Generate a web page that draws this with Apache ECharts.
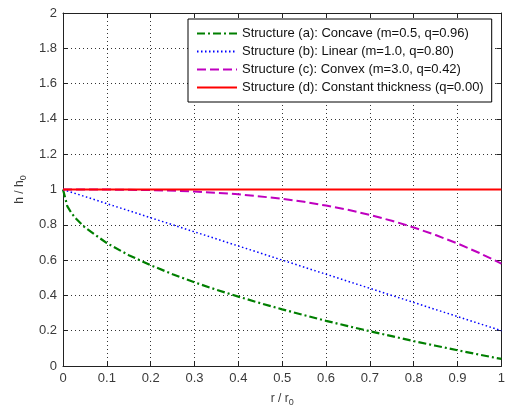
<!DOCTYPE html>
<html>
<head>
<meta charset="utf-8">
<script src="https://cdn.jsdelivr.net/npm/echarts@6/dist/echarts.min.js"></script>
<style>
  html, body { margin: 0; padding: 0; background: #fff; overflow: hidden; }
  #chart { width: 508px; height: 412px; }
</style>
</head>
<body>
<div id="chart"></div>
<script>
// Normalised radius r / r0 and thickness h / h0 for each plate profile
const concaveR = [0, 0.01, 0.02, 0.03, 0.05, 0.1, 0.15, 0.2, 0.25, 0.3, 0.35, 0.4, 0.45, 0.5, 0.55, 0.6, 0.65, 0.7, 0.75, 0.8, 0.85, 0.9, 0.95, 1.0];
const concaveH = [1.0, 0.904, 0.864, 0.834, 0.785, 0.696, 0.628, 0.571, 0.52, 0.474, 0.432, 0.393, 0.356, 0.321, 0.288, 0.256, 0.226, 0.197, 0.169, 0.141, 0.115, 0.089, 0.064, 0.04];

const linearR = [0, 0.1, 0.2, 0.3, 0.4, 0.5, 0.6, 0.7, 0.8, 0.9, 1.0];
const linearH = [1.0, 0.92, 0.84, 0.76, 0.68, 0.60, 0.52, 0.44, 0.36, 0.28, 0.20];

const convexR = [0, 0.1, 0.2, 0.3, 0.4, 0.5, 0.55, 0.6, 0.65, 0.7, 0.75, 0.8, 0.85, 0.9, 0.95, 1.0];
const convexH = [1.0, 0.9996, 0.9966, 0.989, 0.973, 0.948, 0.930, 0.909, 0.885, 0.856, 0.823, 0.785, 0.742, 0.694, 0.640, 0.58];

const constantR = [0, 1.0];
const constantH = [1.0, 1.0];

const seriesNames = [
  'Structure (a): Concave (m=0.5, q=0.96)',
  'Structure (b): Linear (m=1.0, q=0.80)',
  'Structure (c): Convex (m=3.0, q=0.42)',
  'Structure (d): Constant thickness (q=0.00)'
];

const xTicks = [0, 0.1, 0.2, 0.3, 0.4, 0.5, 0.6, 0.7, 0.8, 0.9, 1];
const yTicks = [0, 0.2, 0.4, 0.6, 0.8, 1, 1.2, 1.4, 1.6, 1.8, 2];

const pairs = (xs, ys) => xs.map((x, i) => [x, ys[i]]);

const font = 'Arial, "Liberation Sans", sans-serif';
const labelColor = '#3a3a3a';
const axisColor = '#222';

const tickFmt = v => String(Math.round(v * 10) / 10);

function mainAxis(pos, min, max, interval, extra) {
  return Object.assign({
    type: 'value', position: pos, min: min, max: max, interval: interval,
    axisLine: { show: true, onZero: false, lineStyle: { color: axisColor, width: 1 } },
    axisTick: { show: true, inside: true, length: 5, lineStyle: { color: axisColor } },
    axisLabel: { show: true, color: labelColor, fontSize: 13, fontFamily: font, margin: 6, formatter: tickFmt },
    splitLine: { show: true, lineStyle: { color: '#333', width: 1, type: [1, 3] } }
  }, extra || {});
}

function mirrorAxis(pos, min, max, interval) {
  return {
    type: 'value', position: pos, min: min, max: max, interval: interval,
    axisLine: { show: true, onZero: false, lineStyle: { color: axisColor, width: 1 } },
    axisTick: { show: true, inside: true, length: 5, lineStyle: { color: axisColor } },
    axisLabel: { show: false },
    splitLine: { show: false }
  };
}

const subRich = { s: { fontSize: 9, fontFamily: font, color: labelColor, verticalAlign: 'bottom', padding: [8, 0, 0, 0] } };

const chart = echarts.init(document.getElementById('chart'), null, { renderer: 'canvas', width: 508, height: 412 });

chart.setOption({
  backgroundColor: '#fff',
  animation: false,
  grid: { left: 63, right: 1, top: 13, bottom: 44, containLabel: false },
  xAxis: [
    mainAxis('bottom', 0, 1, 0.1, {
      name: 'r / r{s|0}',
      nameLocation: 'middle',
      nameGap: 24,
      nameTextStyle: { color: labelColor, fontSize: 12, fontFamily: font, rich: subRich }
    }),
    mirrorAxis('top', 0, 1, 0.1)
  ],
  yAxis: [
    mainAxis('left', 0, 2, 0.2, {
      name: 'h / h{s|0}',
      nameLocation: 'middle',
      nameGap: 35,
      nameRotate: 90,
      nameTextStyle: { color: labelColor, fontSize: 12, fontFamily: font, rich: subRich }
    }),
    mirrorAxis('right', 0, 2, 0.2)
  ],
  legend: {
    show: true,
    orient: 'vertical',
    left: 188,
    top: 19,
    padding: [8, 8, 8, 8],
    itemGap: 5,
    itemWidth: 40,
    itemHeight: 14,
    backgroundColor: '#fff',
    borderColor: '#000',
    borderWidth: 1,
    borderRadius: 0,
    itemStyle: { opacity: 0, borderWidth: 0 },
    textStyle: { color: '#111', fontSize: 13, fontFamily: font },
    data: seriesNames
  },
  series: [
    {
      name: seriesNames[0], type: 'line', showSymbol: false, symbol: 'none',
      data: pairs(concaveR, concaveH), z: 2,
      lineStyle: { color: '#007f00', width: 2.2, type: [8, 3, 2, 3] },
      itemStyle: { color: '#007f00' }
    },
    {
      name: seriesNames[1], type: 'line', showSymbol: false, symbol: 'none',
      data: pairs(linearR, linearH), z: 2,
      lineStyle: { color: '#0000ff', width: 1.5, type: [1.5, 2.5] },
      itemStyle: { color: '#0000ff' }
    },
    {
      name: seriesNames[2], type: 'line', showSymbol: false, symbol: 'none',
      data: pairs(convexR, convexH), z: 2,
      lineStyle: { color: '#bf00bf', width: 2, type: [9, 4] },
      itemStyle: { color: '#bf00bf' }
    },
    {
      name: seriesNames[3], type: 'line', showSymbol: false, symbol: 'none',
      data: pairs(constantR, constantH), z: 3,
      lineStyle: { color: '#ff0000', width: 2, type: 'solid' },
      itemStyle: { color: '#ff0000' }
    }
  ]
});
</script>
</body>
</html>
